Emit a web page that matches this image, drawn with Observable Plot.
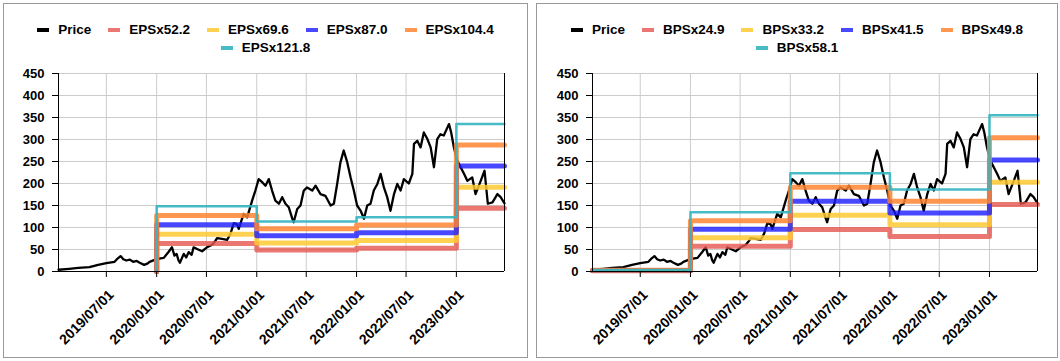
<!DOCTYPE html>
<html><head><meta charset="utf-8">
<script src="https://cdn.jsdelivr.net/npm/d3@7"></script>
<script src="https://cdn.jsdelivr.net/npm/@observablehq/plot@0.6"></script>
<style>
body{margin:0;background:#fff;font-family:"Liberation Sans",Arial,sans-serif;}
#root{position:relative;width:1060px;height:361px;overflow:hidden;background:#fff;}
.panel{position:absolute;top:3px;height:355px;border:1px solid #999;box-sizing:border-box;background:#fff;}
.legend{position:absolute;top:17px;left:0;right:0;display:flex;flex-wrap:wrap;justify-content:center;column-gap:17px;font-weight:bold;font-size:13.5px;line-height:18px;color:#000;}
.item{display:flex;align-items:center;white-space:nowrap;}
.sw{width:12px;height:4px;margin-right:9px;}
.brk{flex-basis:100%;height:0;}
.panel svg{position:absolute;left:0;top:57px;}
</style>
</head><body><div id="root"></div>
<script>
// ---- data ----
const priceDates = ["2019-01-07","2019-02-15","2019-03-20","2019-04-30","2019-06-01","2019-07-01","2019-07-31","2019-08-12","2019-08-22","2019-09-01","2019-09-12","2019-09-25","2019-10-07","2019-10-20","2019-10-31","2019-11-16","2019-11-28","2019-12-06","2019-12-27","2020-01-15","2020-01-27","2020-02-14","2020-02-26","2020-03-06","2020-03-14","2020-03-21","2020-03-26","2020-04-09","2020-04-18","2020-04-27","2020-05-08","2020-05-15","2020-05-28","2020-06-15","2020-07-03","2020-07-22","2020-08-03","2020-08-09","2020-08-27","2020-09-15","2020-09-27","2020-10-09","2020-10-21","2020-10-27","2020-11-14","2020-11-27","2020-12-15","2020-12-27","2021-01-08","2021-01-21","2021-02-02","2021-02-14","2021-02-26","2021-03-10","2021-03-23","2021-04-04","2021-04-16","2021-04-28","2021-05-11","2021-05-16","2021-05-29","2021-06-10","2021-06-22","2021-07-04","2021-07-23","2021-08-04","2021-08-22","2021-09-09","2021-09-28","2021-10-10","2021-10-22","2021-11-03","2021-11-15","2021-11-28","2021-12-10","2021-12-22","2022-01-03","2022-01-16","2022-01-28","2022-02-09","2022-02-21","2022-03-05","2022-03-18","2022-03-30","2022-04-11","2022-04-23","2022-05-05","2022-05-18","2022-05-30","2022-06-11","2022-06-23","2022-07-11","2022-07-24","2022-07-30","2022-08-11","2022-08-23","2022-09-04","2022-09-17","2022-09-29","2022-10-11","2022-10-23","2022-11-04","2022-11-16","2022-11-29","2022-12-05","2022-12-13","2022-12-23","2023-01-04","2023-01-14","2023-01-29","2023-02-10","2023-02-28","2023-03-12","2023-03-31","2023-04-14","2023-04-26","2023-05-13","2023-05-31","2023-06-12","2023-06-26"];
const priceValues = [4,6,8,10,15,19,22,30,35,28,25,27,22,24,20,15,18,22,27,30,31,45,55,36,40,25,20,40,32,44,38,55,51,46,55,61,70,76,74,72,86,110,107,97,131,123,161,184,210,203,195,210,184,161,154,169,154,146,120,112,142,150,184,191,184,195,176,172,150,154,199,248,275,248,214,184,150,138,120,150,154,184,199,222,191,169,138,176,199,184,210,200,222,290,297,282,316,301,282,237,301,312,309,327,335,316,282,252,240,222,206,214,176,206,229,154,157,176,169,155];

const xStart = "2019-01-07";
const xEnd = "2023-06-26";
const xTickDates = ["2019-07-01","2020-01-01","2020-07-01","2021-01-01","2021-07-01","2022-01-01","2022-07-01","2023-01-01"];
const yTicks = [0,50,100,150,200,250,300,350,400,450];

const epsNames = ["EPSx52.2","EPSx69.6","EPSx87.0","EPSx104.4","EPSx121.8"];
const epsPeriodStarts = ["2020-01-01","2021-01-01","2022-01-01","2023-01-01"];
const epsValues = [
  [63.6, 48.6, 52.8, 143.7],
  [84.8, 64.8, 70.4, 191.6],
  [106.0, 81.0, 88.0, 239.5],
  [127.2, 97.2, 105.6, 287.4],
  [148.4, 113.4, 123.2, 335.3]
];

const bpsNames = ["BPSx24.9","BPSx33.2","BPSx41.5","BPSx49.8","BPSx58.1"];
const bpsPeriodStarts = ["2019-01-07","2020-01-01","2021-01-01","2022-01-01","2023-01-01"];
const bpsValues = [
  [1.5, 57.6, 95.7, 79.8, 152.1],
  [2.0, 76.8, 127.6, 106.4, 202.8],
  [2.5, 96.0, 159.5, 133.0, 253.5],
  [3.0, 115.2, 191.4, 159.6, 304.2],
  [3.5, 134.4, 223.3, 186.2, 354.9]
];

const seriesColors = ["#e5554f","#ffc933","#1a1aff","#ff8533","#33b5c0"];
const seriesOpacity = [0.8,0.85,0.8,0.85,0.9];
const seriesWidths = [5,5,5,5,2.5];

// ---- drawing ----
const parse = d3.utcParse("%Y-%m-%d");
const fmt = d3.utcFormat("%Y/%m/%d");
const price = priceDates.map((d,i)=>({date: parse(d), value: priceValues[i]}));

function stepPoints(starts, vals, fromZero){
  const pts = [];
  if (fromZero) pts.push({date: parse(starts[0]), value: 0});
  starts.forEach((s,i)=>pts.push({date: parse(s), value: vals[i]}));
  pts.push({date: parse(xEnd), value: vals[vals.length-1]});
  return pts;
}

function panel(cfg){
  const p = document.createElement("div");
  p.className = "panel";
  p.style.left = cfg.left + "px";
  p.style.width = cfg.width + "px";
  const lg = document.createElement("div");
  lg.className = "legend";
  const items = [{name:"Price", color:"#000", op:1}].concat(cfg.names.map((n,i)=>({name:n, color:seriesColors[i], op:seriesOpacity[i]})));
  items.forEach((it,i)=>{
    if (i === 5) { const b = document.createElement("div"); b.className="brk"; lg.appendChild(b); }
    const d = document.createElement("div"); d.className = "item";
    d.innerHTML = `<span class="sw" style="background:${it.color};opacity:${it.op}"></span><span>${it.name}</span>`;
    lg.appendChild(d);
  });
  p.appendChild(lg);

  const x0 = parse(xStart), x1 = parse(xEnd);
  const xTicks = xTickDates.map(parse);
  const marks = [
    Plot.gridX(xTicks, {stroke:"#cccccc", strokeOpacity:1}),
    Plot.gridY(yTicks, {stroke:"#cccccc", strokeOpacity:1}),
    Plot.line(price, {x:"date", y:"value", stroke:"#000", strokeWidth:2.3})
  ];
  cfg.values.forEach((vals,i)=>{
    marks.push(Plot.line(stepPoints(cfg.starts, vals, cfg.fromZero), {x:"date", y:"value", curve:"step-after", stroke:seriesColors[i], strokeOpacity:seriesOpacity[i], strokeWidth:seriesWidths[i]}));
  });
  marks.push(
    Plot.ruleY([0], {stroke:"#000"}),
    Plot.ruleX([x0, x1], {stroke:"#000"}),
    Plot.axisY(yTicks, {tickSize:6, tickPadding:8, fontSize:13, fontWeight:"bold", label:null}),
    Plot.axisX(xTicks, {tickSize:6, tickFormat:()=>"", label:null}),
    Plot.text(xTicks, {x:d=>d, frameAnchor:"bottom", text:d=>fmt(d), rotate:-45, textAnchor:"end", lineAnchor:"middle", dx:5, dy:21, fontSize:14, fontWeight:"bold", fill:"#000"})
  );
  const svg = Plot.plot({
    width: cfg.width - 2, height: 296,
    marginLeft: cfg.ml, marginRight: cfg.mr, marginTop: 12, marginBottom: 86,
    x: {type:"utc", domain:[x0, x1]},
    y: {domain:[0,450]},
    style: {fontFamily:"'Liberation Sans', Arial, sans-serif", fontSize:"13px", fontWeight:"bold", color:"#000", background:"transparent", overflow:"visible"},
    marks
  });
  p.appendChild(svg);
  document.getElementById("root").appendChild(p);
}

panel({left:3, width:525, ml:54, mr:23, names:epsNames, starts:epsPeriodStarts, values:epsValues, fromZero:true});
panel({left:536, width:522, ml:55, mr:20, names:bpsNames, starts:bpsPeriodStarts, values:bpsValues, fromZero:false});
</script></body></html>
